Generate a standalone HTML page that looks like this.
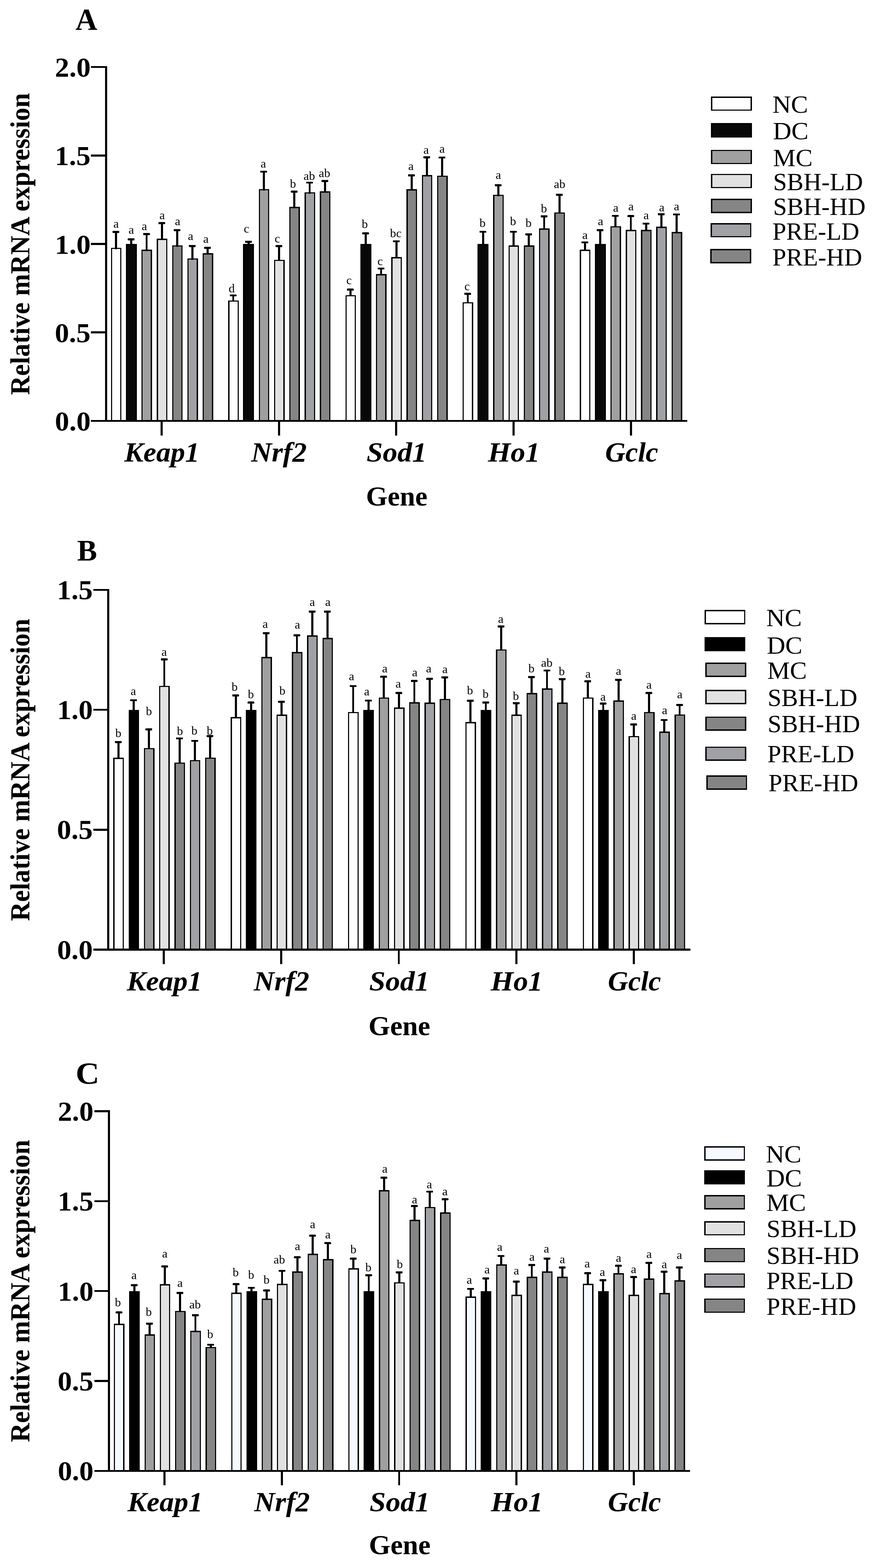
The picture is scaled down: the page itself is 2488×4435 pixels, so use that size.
<!DOCTYPE html>
<html lang="en">
<head>
<meta charset="utf-8">
<title>Relative mRNA expression of Keap1, Nrf2, Sod1, Ho1 and Gclc</title>
<style>
html,body{margin:0;padding:0;background:#fff;}
body{width:2488px;height:4435px;overflow:hidden;}
svg{display:block;}
.bars,.err,.axes,.legend rect{shape-rendering:crispEdges;}
text{font-family:"Liberation Serif",serif;fill:#000;}
.bars rect{stroke:#000;stroke-width:3.4;}
.err path{stroke:#000;stroke-width:5.8;fill:none;}
.err rect{fill:#000;}
.let text{font-size:34.4px;text-anchor:middle;}
.axes path{stroke:#000;fill:none;}
.axes .v{stroke-width:5.8;}
.bold text{font-weight:bold;}
.gene text{font-weight:bold;font-style:italic;}
.legend rect{stroke:#000;stroke-width:3.7;}
</style>
</head>
<body>
<svg width="2488" height="4435" viewBox="0 0 2488 4435" role="img" aria-label="Relative mRNA expression bar charts, panels A, B and C">
<rect x="0" y="0" width="2488" height="4435" fill="#ffffff"/>
<g id="panel-a">
<g class="bars">
<rect x="315.4" y="702.8" width="26.4" height="487.7" fill="#ffffff"/>
<rect x="357.7" y="691.4" width="27.3" height="499.1" fill="#080808"/>
<rect x="401.8" y="707.9" width="26.4" height="482.6" fill="#a0a0a0"/>
<rect x="445" y="676.9" width="26.4" height="513.6" fill="#e1e1e1"/>
<rect x="488.2" y="695.8" width="26.4" height="494.7" fill="#858585"/>
<rect x="531.4" y="732.8" width="26.4" height="457.7" fill="#a0a1a5"/>
<rect x="574.6" y="718.1" width="26.4" height="472.4" fill="#858585"/>
<rect x="646.85" y="851.7" width="26.4" height="338.8" fill="#ffffff"/>
<rect x="689.15" y="691.6" width="27.3" height="498.9" fill="#080808"/>
<rect x="733.25" y="536.8" width="26.4" height="653.7" fill="#a0a0a0"/>
<rect x="776.45" y="736.7" width="26.4" height="453.8" fill="#e1e1e1"/>
<rect x="819.65" y="587" width="26.4" height="603.5" fill="#858585"/>
<rect x="862.85" y="545.8" width="26.4" height="644.7" fill="#a0a1a5"/>
<rect x="906.05" y="542.9" width="26.4" height="647.6" fill="#858585"/>
<rect x="978.3" y="836.5" width="26.4" height="354" fill="#ffffff"/>
<rect x="1020.6" y="691.7" width="27.3" height="498.8" fill="#080808"/>
<rect x="1064.7" y="777" width="26.4" height="413.5" fill="#a0a0a0"/>
<rect x="1107.9" y="729" width="26.4" height="461.5" fill="#e1e1e1"/>
<rect x="1151.1" y="536.9" width="26.4" height="653.6" fill="#858585"/>
<rect x="1194.3" y="497" width="26.4" height="693.5" fill="#a0a1a5"/>
<rect x="1237.5" y="498.2" width="26.4" height="692.3" fill="#858585"/>
<rect x="1309.75" y="856.5" width="26.4" height="334" fill="#ffffff"/>
<rect x="1352.05" y="691.6" width="27.3" height="498.9" fill="#080808"/>
<rect x="1396.15" y="552.8" width="26.4" height="637.7" fill="#a0a0a0"/>
<rect x="1439.35" y="696" width="26.4" height="494.5" fill="#e1e1e1"/>
<rect x="1482.55" y="696" width="26.4" height="494.5" fill="#858585"/>
<rect x="1525.75" y="648" width="26.4" height="542.5" fill="#a0a1a5"/>
<rect x="1568.95" y="602.7" width="26.4" height="587.8" fill="#858585"/>
<rect x="1641.2" y="708" width="26.4" height="482.5" fill="#ffffff"/>
<rect x="1683.5" y="692.1" width="27.3" height="498.4" fill="#080808"/>
<rect x="1727.6" y="641.7" width="26.4" height="548.8" fill="#a0a0a0"/>
<rect x="1770.8" y="652.1" width="26.4" height="538.4" fill="#e1e1e1"/>
<rect x="1814" y="651.9" width="26.4" height="538.6" fill="#858585"/>
<rect x="1857.2" y="642.9" width="26.4" height="547.6" fill="#a0a1a5"/>
<rect x="1900.4" y="657.9" width="26.4" height="532.6" fill="#858585"/>
</g>
<g class="err">
<path d="M328.1 656V704.5"/><rect x="318.2" y="653.25" width="19" height="5.5" rx="1.3"/>
<path d="M371.3 677.1V693.1"/><rect x="361.4" y="674.35" width="19" height="5.5" rx="1.3"/>
<path d="M414.5 661.9V709.6"/><rect x="404.6" y="659.15" width="19" height="5.5" rx="1.3"/>
<path d="M457.7 631.1V678.6"/><rect x="447.8" y="628.35" width="19" height="5.5" rx="1.3"/>
<path d="M500.9 651V697.5"/><rect x="491" y="648.25" width="19" height="5.5" rx="1.3"/>
<path d="M544.1 695.8V734.5"/><rect x="534.2" y="693.05" width="19" height="5.5" rx="1.3"/>
<path d="M587.3 700.9V719.8"/><rect x="577.4" y="698.15" width="19" height="5.5" rx="1.3"/>
<path d="M659.55 835.7V853.4"/><rect x="649.65" y="832.95" width="19" height="5.5" rx="1.3"/>
<path d="M702.75 683.8V693.3"/><rect x="692.85" y="681.05" width="19" height="5.5" rx="1.3"/>
<path d="M745.95 485.5V538.5"/><rect x="736.05" y="482.75" width="19" height="5.5" rx="1.3"/>
<path d="M789.15 696.2V738.4"/><rect x="779.25" y="693.45" width="19" height="5.5" rx="1.3"/>
<path d="M832.35 541.9V588.7"/><rect x="822.45" y="539.15" width="19" height="5.5" rx="1.3"/>
<path d="M875.55 516.5V547.5"/><rect x="865.65" y="513.75" width="19" height="5.5" rx="1.3"/>
<path d="M918.75 511.9V544.6"/><rect x="908.85" y="509.15" width="19" height="5.5" rx="1.3"/>
<path d="M991 819.1V838.2"/><rect x="981.1" y="816.35" width="19" height="5.5" rx="1.3"/>
<path d="M1034.2 660.2V693.4"/><rect x="1024.3" y="657.45" width="19" height="5.5" rx="1.3"/>
<path d="M1077.4 759.3V778.7"/><rect x="1067.5" y="756.55" width="19" height="5.5" rx="1.3"/>
<path d="M1120.6 682.3V730.7"/><rect x="1110.7" y="679.55" width="19" height="5.5" rx="1.3"/>
<path d="M1163.8 496V538.6"/><rect x="1153.9" y="493.25" width="19" height="5.5" rx="1.3"/>
<path d="M1207 444.9V498.7"/><rect x="1197.1" y="442.15" width="19" height="5.5" rx="1.3"/>
<path d="M1250.2 445.6V499.9"/><rect x="1240.3" y="442.85" width="19" height="5.5" rx="1.3"/>
<path d="M1322.45 831.1V858.2"/><rect x="1312.55" y="828.35" width="19" height="5.5" rx="1.3"/>
<path d="M1365.65 655.7V693.3"/><rect x="1355.75" y="652.95" width="19" height="5.5" rx="1.3"/>
<path d="M1408.85 524V554.5"/><rect x="1398.95" y="521.25" width="19" height="5.5" rx="1.3"/>
<path d="M1452.05 655.3V697.7"/><rect x="1442.15" y="652.55" width="19" height="5.5" rx="1.3"/>
<path d="M1495.25 662.8V697.7"/><rect x="1485.35" y="660.05" width="19" height="5.5" rx="1.3"/>
<path d="M1538.45 611.9V649.7"/><rect x="1528.55" y="609.15" width="19" height="5.5" rx="1.3"/>
<path d="M1581.65 550.9V604.4"/><rect x="1571.75" y="548.15" width="19" height="5.5" rx="1.3"/>
<path d="M1653.9 685.3V709.7"/><rect x="1644" y="682.55" width="19" height="5.5" rx="1.3"/>
<path d="M1697.1 651.1V693.8"/><rect x="1687.2" y="648.35" width="19" height="5.5" rx="1.3"/>
<path d="M1740.3 610.7V643.4"/><rect x="1730.4" y="607.95" width="19" height="5.5" rx="1.3"/>
<path d="M1783.5 611.2V653.8"/><rect x="1773.6" y="608.45" width="19" height="5.5" rx="1.3"/>
<path d="M1826.7 632.5V653.6"/><rect x="1816.8" y="629.75" width="19" height="5.5" rx="1.3"/>
<path d="M1869.9 605.8V644.6"/><rect x="1860" y="603.05" width="19" height="5.5" rx="1.3"/>
<path d="M1913.1 606.3V659.6"/><rect x="1903.2" y="603.55" width="19" height="5.5" rx="1.3"/>
</g>
<g class="let">
<text x="328.1" y="644.2">a</text>
<text x="371.1" y="660.7">a</text>
<text x="408.2" y="651">a</text>
<text x="458.3" y="619.5">a</text>
<text x="502.2" y="637">a</text>
<text x="539" y="678.9">a</text>
<text x="582.1" y="686.9">a</text>
<text x="655.1" y="826.6">d</text>
<text x="697" y="657.5">c</text>
<text x="744.4" y="473.9">a</text>
<text x="784.2" y="686.1">c</text>
<text x="828.3" y="531.1">b</text>
<text x="874.5" y="509.3">ab</text>
<text x="917.6" y="500.8">ab</text>
<text x="986.8" y="803.9">c</text>
<text x="1031.4" y="644.8">b</text>
<text x="1075" y="749.7">c</text>
<text x="1119" y="671.4">bc</text>
<text x="1162" y="480.6">a</text>
<text x="1205" y="434.6">a</text>
<text x="1249.8" y="432.1">a</text>
<text x="1320.7" y="820.5">c</text>
<text x="1364.3" y="641.8">b</text>
<text x="1408.8" y="506.2">a</text>
<text x="1450.7" y="636.9">b</text>
<text x="1494.3" y="641.8">b</text>
<text x="1537.9" y="601.1">b</text>
<text x="1582.3" y="531.6">ab</text>
<text x="1654" y="676.1">a</text>
<text x="1697.9" y="636.9">a</text>
<text x="1741" y="598.6">a</text>
<text x="1783.9" y="594.8">a</text>
<text x="1827" y="619.5">a</text>
<text x="1870.8" y="597.7">a</text>
<text x="1913" y="594.8">a</text>
</g>
<g class="axes">
<path class="v" d="M300.1 187V1193.2"/>
<path class="h" stroke-width="5.4" d="M257.4 1190.5H1943"/>
<path class="h" stroke-width="5.4" d="M257.4 189.7H300.1"/>
<path class="h" stroke-width="5.4" d="M257.4 439.85H300.1"/>
<path class="h" stroke-width="5.4" d="M257.4 690H300.1"/>
<path class="h" stroke-width="5.4" d="M257.4 940.15H300.1"/>
<path class="v" d="M456.9 1190.5V1231.8"/>
<path class="v" d="M788.6 1190.5V1231.8"/>
<path class="v" d="M1120.3 1190.5V1231.8"/>
<path class="v" d="M1452 1190.5V1231.8"/>
<path class="v" d="M1783.7 1190.5V1231.8"/>
</g>
<g class="bold">
<text class="tl" transform="translate(155.36 217.3) scale(1.033 1)" font-size="78.2">2.0</text>
<text class="tl" transform="translate(154.95 467.45) scale(1.033 1)" font-size="78.2">1.5</text>
<text class="tl" transform="translate(155.36 717.6) scale(1.033 1)" font-size="78.2">1.0</text>
<text class="tl" transform="translate(154.95 967.75) scale(1.033 1)" font-size="78.2">0.5</text>
<text class="tl" transform="translate(155.36 1217.9) scale(1.033 1)" font-size="78.2">0.0</text>
<text class="xl" transform="translate(1034.79 1429.9) scale(0.9953 1)" font-size="78.6">Gene</text>
<text class="yl" transform="translate(82.9 1117.12) rotate(-90) scale(0.9622 1)" font-size="77.7">Relative mRNA expression</text>
<text class="pl" transform="translate(213.34 84.1) scale(0.9921 1)" font-size="86.5">A</text>
</g>
<g class="gene">
<text class="gl" transform="translate(351.21 1304.5) scale(1.0523 1)" font-size="77.5">Keap1</text>
<text class="gl" transform="translate(709.91 1304.5) scale(1.0436 1)" font-size="77.5">Nrf2</text>
<text class="gl" transform="translate(1036.25 1304.5) scale(1.0676 1)" font-size="77.5">Sod1</text>
<text class="gl" transform="translate(1379.51 1304.5) scale(1.0676 1)" font-size="77.5">Ho1</text>
<text class="gl" transform="translate(1710.92 1304.5) scale(1.0245 1)" font-size="77.5">Gclc</text>
</g>
<g class="legend">
<rect x="2012.05" y="274.75" width="111.7" height="36.9" fill="#ffffff"/>
<text class="lt" transform="translate(2184.03 318.7) scale(1.0419 1)" font-size="69.5">NC</text>
<rect x="2012.05" y="349.75" width="111.7" height="36.9" fill="#080808"/>
<text class="lt" transform="translate(2185.13 393.7) scale(1.0419 1)" font-size="69.5">DC</text>
<rect x="2012.05" y="425.65" width="111.7" height="36.9" fill="#a0a0a0"/>
<text class="lt" transform="translate(2185.54 469.6) scale(1.0356 1)" font-size="69.5">MC</text>
<rect x="2012.05" y="493.55" width="111.7" height="36.9" fill="#e1e1e1"/>
<text class="lt" transform="translate(2185.73 538) scale(1.0119 1)" font-size="69.5">SBH-LD</text>
<rect x="2012.05" y="564.05" width="111.7" height="36.9" fill="#858585"/>
<text class="lt" transform="translate(2185.73 608.1) scale(1.011 1)" font-size="69.5">SBH-HD</text>
<rect x="2010.85" y="632.65" width="111.7" height="36.9" fill="#a0a1a5"/>
<text class="lt" transform="translate(2183.69 677.5) scale(1.011 1)" font-size="69.5">PRE-LD</text>
<rect x="2010.15" y="705.85" width="111.7" height="36.9" fill="#858585"/>
<text class="lt" transform="translate(2183.69 750.5) scale(1.0121 1)" font-size="69.5">PRE-HD</text>
</g>
</g>
<g id="panel-b">
<g class="bars">
<rect x="322.1" y="2144.9" width="26.4" height="541.1" fill="#ffffff"/>
<rect x="365.33" y="2009.5" width="26.4" height="676.5" fill="#000000"/>
<rect x="408.56" y="2117.7" width="26.4" height="568.3" fill="#a0a0a0"/>
<rect x="451.79" y="1941.7" width="26.4" height="744.3" fill="#e1e1e1"/>
<rect x="495.02" y="2158.4" width="26.4" height="527.6" fill="#858585"/>
<rect x="538.25" y="2151.7" width="26.4" height="534.3" fill="#a0a1a5"/>
<rect x="581.48" y="2144.4" width="26.4" height="541.6" fill="#858585"/>
<rect x="653.95" y="2030.2" width="26.4" height="655.8" fill="#ffffff"/>
<rect x="697.18" y="2009.9" width="26.4" height="676.1" fill="#000000"/>
<rect x="740.41" y="1860.2" width="26.4" height="825.8" fill="#a0a0a0"/>
<rect x="783.64" y="2022.9" width="26.4" height="663.1" fill="#e1e1e1"/>
<rect x="826.87" y="1846.1" width="26.4" height="839.9" fill="#858585"/>
<rect x="870.1" y="1798.9" width="26.4" height="887.1" fill="#a0a1a5"/>
<rect x="913.33" y="1806.2" width="26.4" height="879.8" fill="#858585"/>
<rect x="985.8" y="2015.7" width="26.4" height="670.3" fill="#ffffff"/>
<rect x="1029.03" y="2009.6" width="26.4" height="676.4" fill="#000000"/>
<rect x="1072.26" y="1974.7" width="26.4" height="711.3" fill="#a0a0a0"/>
<rect x="1115.49" y="2002.8" width="26.4" height="683.2" fill="#e1e1e1"/>
<rect x="1158.72" y="1987.8" width="26.4" height="698.2" fill="#858585"/>
<rect x="1201.95" y="1988.8" width="26.4" height="697.2" fill="#a0a1a5"/>
<rect x="1245.18" y="1978.6" width="26.4" height="707.4" fill="#858585"/>
<rect x="1317.65" y="2044.1" width="26.4" height="641.9" fill="#ffffff"/>
<rect x="1360.88" y="2009.5" width="26.4" height="676.5" fill="#000000"/>
<rect x="1404.11" y="1838.7" width="26.4" height="847.3" fill="#a0a0a0"/>
<rect x="1447.34" y="2023.1" width="26.4" height="662.9" fill="#e1e1e1"/>
<rect x="1490.57" y="1961.8" width="26.4" height="724.2" fill="#858585"/>
<rect x="1533.8" y="1948.9" width="26.4" height="737.1" fill="#a0a1a5"/>
<rect x="1577.03" y="1988.9" width="26.4" height="697.1" fill="#858585"/>
<rect x="1649.5" y="1974.7" width="26.4" height="711.3" fill="#ffffff"/>
<rect x="1692.73" y="2009.6" width="26.4" height="676.4" fill="#000000"/>
<rect x="1735.96" y="1983" width="26.4" height="703" fill="#a0a0a0"/>
<rect x="1779.19" y="2083.7" width="26.4" height="602.3" fill="#e1e1e1"/>
<rect x="1822.42" y="2015.7" width="26.4" height="670.3" fill="#858585"/>
<rect x="1865.65" y="2070.9" width="26.4" height="615.1" fill="#a0a1a5"/>
<rect x="1908.88" y="2022.7" width="26.4" height="663.3" fill="#858585"/>
</g>
<g class="err">
<path d="M334.8 2098.9V2146.6"/><rect x="324.9" y="2096.15" width="19" height="5.5" rx="1.3"/>
<path d="M378.03 1980.7V2011.2"/><rect x="368.13" y="1977.95" width="19" height="5.5" rx="1.3"/>
<path d="M421.26 2063V2119.4"/><rect x="411.36" y="2060.25" width="19" height="5.5" rx="1.3"/>
<path d="M464.49 1865.1V1943.4"/><rect x="454.59" y="1862.35" width="19" height="5.5" rx="1.3"/>
<path d="M507.72 2088.7V2160.1"/><rect x="497.82" y="2085.95" width="19" height="5.5" rx="1.3"/>
<path d="M550.95 2095.5V2153.4"/><rect x="541.05" y="2092.75" width="19" height="5.5" rx="1.3"/>
<path d="M594.18 2081.9V2146.1"/><rect x="584.28" y="2079.15" width="19" height="5.5" rx="1.3"/>
<path d="M666.65 1967V2031.9"/><rect x="656.75" y="1964.25" width="19" height="5.5" rx="1.3"/>
<path d="M709.88 1987.1V2011.6"/><rect x="699.98" y="1984.35" width="19" height="5.5" rx="1.3"/>
<path d="M753.11 1790.9V1861.9"/><rect x="743.21" y="1788.15" width="19" height="5.5" rx="1.3"/>
<path d="M796.34 1984.9V2024.6"/><rect x="786.44" y="1982.15" width="19" height="5.5" rx="1.3"/>
<path d="M839.57 1797V1847.8"/><rect x="829.67" y="1794.25" width="19" height="5.5" rx="1.3"/>
<path d="M882.8 1729.9V1800.6"/><rect x="872.9" y="1727.15" width="19" height="5.5" rx="1.3"/>
<path d="M926.03 1729.9V1807.9"/><rect x="916.13" y="1727.15" width="19" height="5.5" rx="1.3"/>
<path d="M998.5 1940.6V2017.4"/><rect x="988.6" y="1937.85" width="19" height="5.5" rx="1.3"/>
<path d="M1041.73 1981.3V2011.3"/><rect x="1031.83" y="1978.55" width="19" height="5.5" rx="1.3"/>
<path d="M1084.96 1914.2V1976.4"/><rect x="1075.06" y="1911.45" width="19" height="5.5" rx="1.3"/>
<path d="M1128.19 1960.2V2004.5"/><rect x="1118.29" y="1957.45" width="19" height="5.5" rx="1.3"/>
<path d="M1171.42 1926V1989.5"/><rect x="1161.52" y="1923.25" width="19" height="5.5" rx="1.3"/>
<path d="M1214.65 1920.2V1990.5"/><rect x="1204.75" y="1917.45" width="19" height="5.5" rx="1.3"/>
<path d="M1257.88 1915.9V1980.3"/><rect x="1247.98" y="1913.15" width="19" height="5.5" rx="1.3"/>
<path d="M1330.35 1981.9V2045.8"/><rect x="1320.45" y="1979.15" width="19" height="5.5" rx="1.3"/>
<path d="M1373.58 1987V2011.2"/><rect x="1363.68" y="1984.25" width="19" height="5.5" rx="1.3"/>
<path d="M1416.81 1771.9V1840.4"/><rect x="1406.91" y="1769.15" width="19" height="5.5" rx="1.3"/>
<path d="M1460.04 1988.9V2024.8"/><rect x="1450.14" y="1986.15" width="19" height="5.5" rx="1.3"/>
<path d="M1503.27 1915V1963.5"/><rect x="1493.37" y="1912.25" width="19" height="5.5" rx="1.3"/>
<path d="M1546.5 1896.6V1950.6"/><rect x="1536.6" y="1893.85" width="19" height="5.5" rx="1.3"/>
<path d="M1589.73 1920.8V1990.6"/><rect x="1579.83" y="1918.05" width="19" height="5.5" rx="1.3"/>
<path d="M1662.2 1927V1976.4"/><rect x="1652.3" y="1924.25" width="19" height="5.5" rx="1.3"/>
<path d="M1705.43 1990V2011.3"/><rect x="1695.53" y="1987.25" width="19" height="5.5" rx="1.3"/>
<path d="M1748.66 1922.9V1984.7"/><rect x="1738.76" y="1920.15" width="19" height="5.5" rx="1.3"/>
<path d="M1791.89 2049.1V2085.4"/><rect x="1781.99" y="2046.35" width="19" height="5.5" rx="1.3"/>
<path d="M1835.12 1960.2V2017.4"/><rect x="1825.22" y="1957.45" width="19" height="5.5" rx="1.3"/>
<path d="M1878.35 2036.7V2072.6"/><rect x="1868.45" y="2033.95" width="19" height="5.5" rx="1.3"/>
<path d="M1921.58 1993.9V2024.4"/><rect x="1911.68" y="1991.15" width="19" height="5.5" rx="1.3"/>
</g>
<g class="let">
<text x="334.6" y="2085.4">b</text>
<text x="377" y="1965.5">a</text>
<text x="421.1" y="2023.1">b</text>
<text x="464.2" y="1854.6">a</text>
<text x="508.8" y="2078.6">b</text>
<text x="549.5" y="2077.6">b</text>
<text x="593" y="2077.6">b</text>
<text x="663.4" y="1954">b</text>
<text x="709.4" y="1974.6">b</text>
<text x="749.9" y="1775.7">a</text>
<text x="798.3" y="1965.4">b</text>
<text x="841" y="1778.2">a</text>
<text x="882.8" y="1714.2">a</text>
<text x="926.9" y="1713.7">a</text>
<text x="993.9" y="1923.5">a</text>
<text x="1037" y="1967">a</text>
<text x="1087.9" y="1901.7">a</text>
<text x="1125.9" y="1945.3">a</text>
<text x="1172.6" y="1913.3">a</text>
<text x="1212.1" y="1902.1">a</text>
<text x="1257.9" y="1903.6">a</text>
<text x="1328.8" y="1963.8">b</text>
<text x="1372.8" y="1973.7">b</text>
<text x="1415.9" y="1762.3">a</text>
<text x="1458.6" y="1979.5">b</text>
<text x="1502.6" y="1901.5">b</text>
<text x="1546" y="1885.8">ab</text>
<text x="1588.4" y="1910">b</text>
<text x="1662.4" y="1917.4">a</text>
<text x="1704.8" y="1981.6">a</text>
<text x="1748.8" y="1908.9">a</text>
<text x="1792" y="2036.1">a</text>
<text x="1834.8" y="1948.4">a</text>
<text x="1879.1" y="2019.6">a</text>
<text x="1921.8" y="1975">a</text>
</g>
<g class="axes">
<path class="v" d="M306.2 1665.7V2688.8"/>
<path class="h" stroke-width="5.6" d="M264.2 2686H1952"/>
<path class="h" stroke-width="5.6" d="M264.2 1668.5H306.2"/>
<path class="h" stroke-width="5.6" d="M264.2 2007.6H306.2"/>
<path class="h" stroke-width="5.6" d="M264.2 2346.7H306.2"/>
<path class="v" d="M463.1 2686V2726.6"/>
<path class="v" d="M795.3 2686V2726.6"/>
<path class="v" d="M1127.5 2686V2726.6"/>
<path class="v" d="M1459.7 2686V2726.6"/>
<path class="v" d="M1791.9 2686V2726.6"/>
</g>
<g class="bold">
<text class="tl" transform="translate(161.05 1695.2) scale(1.033 1)" font-size="78.2">1.5</text>
<text class="tl" transform="translate(161.46 2034.3) scale(1.033 1)" font-size="78.2">1.0</text>
<text class="tl" transform="translate(161.05 2373.4) scale(1.033 1)" font-size="78.2">0.5</text>
<text class="tl" transform="translate(161.46 2712.7) scale(1.033 1)" font-size="78.2">0.0</text>
<text class="xl" transform="translate(1041.77 2927.8) scale(1 1)" font-size="78.6">Gene</text>
<text class="yl" transform="translate(82.9 2605.12) rotate(-90) scale(0.9635 1)" font-size="77.7">Relative mRNA expression</text>
<text class="pl" transform="translate(217.93 1585.5) scale(1.0064 1)" font-size="84.1">B</text>
</g>
<g class="gene">
<text class="gl" transform="translate(358.41 2800.6) scale(1.0523 1)" font-size="77.5">Keap1</text>
<text class="gl" transform="translate(717.31 2800.6) scale(1.0436 1)" font-size="77.5">Nrf2</text>
<text class="gl" transform="translate(1043.85 2800.6) scale(1.0676 1)" font-size="77.5">Sod1</text>
<text class="gl" transform="translate(1387.31 2800.6) scale(1.0676 1)" font-size="77.5">Ho1</text>
<text class="gl" transform="translate(1718.82 2800.6) scale(1.0252 1)" font-size="77.5">Gclc</text>
</g>
<g class="legend">
<rect x="1993.85" y="1726.95" width="111.7" height="36.9" fill="#ffffff"/>
<text class="lt" transform="translate(2166.43 1770.9) scale(1.0419 1)" font-size="69.5">NC</text>
<rect x="1993.85" y="1803.55" width="111.7" height="36.9" fill="#000000"/>
<text class="lt" transform="translate(2167.93 1848.5) scale(1.0419 1)" font-size="69.5">DC</text>
<rect x="1996.05" y="1876.05" width="111.7" height="36.9" fill="#a0a0a0"/>
<text class="lt" transform="translate(2169.34 1919.6) scale(1.0356 1)" font-size="69.5">MC</text>
<rect x="1996.05" y="1953.35" width="111.7" height="36.9" fill="#e1e1e1"/>
<text class="lt" transform="translate(2170.13 1997.4) scale(1.0119 1)" font-size="69.5">SBH-LD</text>
<rect x="1996.05" y="2028.45" width="111.7" height="36.9" fill="#858585"/>
<text class="lt" transform="translate(2170.13 2071.4) scale(1.011 1)" font-size="69.5">SBH-HD</text>
<rect x="1996.05" y="2113.35" width="111.7" height="36.9" fill="#a0a1a5"/>
<text class="lt" transform="translate(2169.39 2156.4) scale(1.011 1)" font-size="69.5">PRE-LD</text>
<rect x="1998.75" y="2194.95" width="111.7" height="36.9" fill="#858585"/>
<text class="lt" transform="translate(2172.59 2237.6) scale(1.0121 1)" font-size="69.5">PRE-HD</text>
</g>
</g>
<g id="panel-c">
<g class="bars">
<rect x="323.8" y="3746.1" width="26.4" height="414.4" fill="#f6f9ff"/>
<rect x="367" y="3653.8" width="26.4" height="506.7" fill="#000000"/>
<rect x="410.2" y="3776.1" width="26.4" height="384.4" fill="#a0a0a0"/>
<rect x="453.4" y="3634.2" width="26.4" height="526.3" fill="#e1e1e1"/>
<rect x="496.6" y="3709.7" width="26.4" height="450.8" fill="#858585"/>
<rect x="539.8" y="3765.9" width="26.4" height="394.6" fill="#a0a1a5"/>
<rect x="583" y="3811.7" width="26.4" height="348.8" fill="#858585"/>
<rect x="655.2" y="3658" width="26.4" height="502.5" fill="#f6f9ff"/>
<rect x="698.4" y="3653.9" width="26.4" height="506.6" fill="#000000"/>
<rect x="741.6" y="3675" width="26.4" height="485.5" fill="#a0a0a0"/>
<rect x="784.8" y="3632.9" width="26.4" height="527.6" fill="#e1e1e1"/>
<rect x="828" y="3598" width="26.4" height="562.5" fill="#858585"/>
<rect x="871.2" y="3547.8" width="26.4" height="612.7" fill="#a0a1a5"/>
<rect x="914.4" y="3562.9" width="26.4" height="597.6" fill="#858585"/>
<rect x="986.6" y="3588.9" width="26.4" height="571.6" fill="#f6f9ff"/>
<rect x="1029.8" y="3653.6" width="26.4" height="506.9" fill="#000000"/>
<rect x="1073" y="3367.8" width="26.4" height="792.7" fill="#a0a0a0"/>
<rect x="1116.2" y="3628.7" width="26.4" height="531.8" fill="#e1e1e1"/>
<rect x="1159.4" y="3451.9" width="26.4" height="708.6" fill="#858585"/>
<rect x="1202.6" y="3415.5" width="26.4" height="745" fill="#a0a1a5"/>
<rect x="1245.8" y="3430.8" width="26.4" height="729.7" fill="#858585"/>
<rect x="1318" y="3668.8" width="26.4" height="491.7" fill="#f6f9ff"/>
<rect x="1361.2" y="3653.8" width="26.4" height="506.7" fill="#000000"/>
<rect x="1404.4" y="3578.2" width="26.4" height="582.3" fill="#a0a0a0"/>
<rect x="1447.6" y="3664.2" width="26.4" height="496.3" fill="#e1e1e1"/>
<rect x="1490.8" y="3612.9" width="26.4" height="547.6" fill="#858585"/>
<rect x="1534" y="3598.1" width="26.4" height="562.4" fill="#a0a1a5"/>
<rect x="1577.2" y="3612.9" width="26.4" height="547.6" fill="#858585"/>
<rect x="1649.4" y="3633" width="26.4" height="527.5" fill="#f6f9ff"/>
<rect x="1692.6" y="3653.8" width="26.4" height="506.7" fill="#000000"/>
<rect x="1735.8" y="3602.9" width="26.4" height="557.6" fill="#a0a0a0"/>
<rect x="1779" y="3664" width="26.4" height="496.5" fill="#e1e1e1"/>
<rect x="1822.2" y="3618" width="26.4" height="542.5" fill="#858585"/>
<rect x="1865.4" y="3658.9" width="26.4" height="501.6" fill="#a0a1a5"/>
<rect x="1908.6" y="3622.8" width="26.4" height="537.7" fill="#858585"/>
</g>
<g class="err">
<path d="M336.5 3712.2V3747.8"/><rect x="326.6" y="3709.45" width="19" height="5.5" rx="1.3"/>
<path d="M379.7 3635.1V3655.5"/><rect x="369.8" y="3632.35" width="19" height="5.5" rx="1.3"/>
<path d="M422.9 3743.9V3777.8"/><rect x="413" y="3741.15" width="19" height="5.5" rx="1.3"/>
<path d="M466.1 3582.1V3635.9"/><rect x="456.2" y="3579.35" width="19" height="5.5" rx="1.3"/>
<path d="M509.3 3656.9V3711.4"/><rect x="499.4" y="3654.15" width="19" height="5.5" rx="1.3"/>
<path d="M552.5 3719.9V3767.6"/><rect x="542.6" y="3717.15" width="19" height="5.5" rx="1.3"/>
<path d="M595.7 3803.7V3813.4"/><rect x="585.8" y="3800.95" width="19" height="5.5" rx="1.3"/>
<path d="M667.9 3632.1V3659.7"/><rect x="658" y="3629.35" width="19" height="5.5" rx="1.3"/>
<path d="M711.1 3642.3V3655.6"/><rect x="701.2" y="3639.55" width="19" height="5.5" rx="1.3"/>
<path d="M754.3 3650V3676.7"/><rect x="744.4" y="3647.25" width="19" height="5.5" rx="1.3"/>
<path d="M797.5 3594.3V3634.6"/><rect x="787.6" y="3591.55" width="19" height="5.5" rx="1.3"/>
<path d="M840.7 3556.1V3599.7"/><rect x="830.8" y="3553.35" width="19" height="5.5" rx="1.3"/>
<path d="M883.9 3495V3549.5"/><rect x="874" y="3492.25" width="19" height="5.5" rx="1.3"/>
<path d="M927.1 3516.1V3564.6"/><rect x="917.2" y="3513.35" width="19" height="5.5" rx="1.3"/>
<path d="M999.3 3560.1V3590.6"/><rect x="989.4" y="3557.35" width="19" height="5.5" rx="1.3"/>
<path d="M1042.5 3607.1V3655.3"/><rect x="1032.6" y="3604.35" width="19" height="5.5" rx="1.3"/>
<path d="M1085.7 3331V3369.5"/><rect x="1075.8" y="3328.25" width="19" height="5.5" rx="1.3"/>
<path d="M1128.9 3598.9V3630.4"/><rect x="1119" y="3596.15" width="19" height="5.5" rx="1.3"/>
<path d="M1172.1 3411.2V3453.6"/><rect x="1162.2" y="3408.45" width="19" height="5.5" rx="1.3"/>
<path d="M1215.3 3370.7V3417.2"/><rect x="1205.4" y="3367.95" width="19" height="5.5" rx="1.3"/>
<path d="M1258.5 3392V3432.5"/><rect x="1248.6" y="3389.25" width="19" height="5.5" rx="1.3"/>
<path d="M1330.7 3645.3V3670.5"/><rect x="1320.8" y="3642.55" width="19" height="5.5" rx="1.3"/>
<path d="M1373.9 3616V3655.5"/><rect x="1364" y="3613.25" width="19" height="5.5" rx="1.3"/>
<path d="M1417.1 3552.3V3579.9"/><rect x="1407.2" y="3549.55" width="19" height="5.5" rx="1.3"/>
<path d="M1460.3 3625V3665.9"/><rect x="1450.4" y="3622.25" width="19" height="5.5" rx="1.3"/>
<path d="M1503.5 3578V3614.6"/><rect x="1493.6" y="3575.25" width="19" height="5.5" rx="1.3"/>
<path d="M1546.7 3559.8V3599.8"/><rect x="1536.8" y="3557.05" width="19" height="5.5" rx="1.3"/>
<path d="M1589.9 3585V3614.6"/><rect x="1580" y="3582.25" width="19" height="5.5" rx="1.3"/>
<path d="M1662.1 3601.2V3634.7"/><rect x="1652.2" y="3598.45" width="19" height="5.5" rx="1.3"/>
<path d="M1705.3 3621.1V3655.5"/><rect x="1695.4" y="3618.35" width="19" height="5.5" rx="1.3"/>
<path d="M1748.5 3580.2V3604.6"/><rect x="1738.6" y="3577.45" width="19" height="5.5" rx="1.3"/>
<path d="M1791.7 3611.9V3665.7"/><rect x="1781.8" y="3609.15" width="19" height="5.5" rx="1.3"/>
<path d="M1834.9 3571.9V3619.7"/><rect x="1825" y="3569.15" width="19" height="5.5" rx="1.3"/>
<path d="M1878.1 3596.9V3660.6"/><rect x="1868.2" y="3594.15" width="19" height="5.5" rx="1.3"/>
<path d="M1921.3 3585V3624.5"/><rect x="1911.4" y="3582.25" width="19" height="5.5" rx="1.3"/>
</g>
<g class="let">
<text x="333.4" y="3694.6">b</text>
<text x="379" y="3618">a</text>
<text x="420.6" y="3721.7">b</text>
<text x="465.9" y="3557.2">a</text>
<text x="509" y="3639.8">a</text>
<text x="551.4" y="3700.8">ab</text>
<text x="594.3" y="3785.4">b</text>
<text x="666.3" y="3609.9">b</text>
<text x="710.2" y="3616.9">b</text>
<text x="753.5" y="3631">b</text>
<text x="789.8" y="3573.8">ab</text>
<text x="841.2" y="3535.6">a</text>
<text x="883.8" y="3473.8">a</text>
<text x="926.9" y="3502.6">a</text>
<text x="999.2" y="3545.4">b</text>
<text x="1041.6" y="3595.5">b</text>
<text x="1087.9" y="3316.8">a</text>
<text x="1130.3" y="3587.3">b</text>
<text x="1172.2" y="3403.7">a</text>
<text x="1213.8" y="3360.6">a</text>
<text x="1257.9" y="3381.4">a</text>
<text x="1326.8" y="3631.1">a</text>
<text x="1377.2" y="3601.8">a</text>
<text x="1413" y="3537.9">a</text>
<text x="1460" y="3604.9">a</text>
<text x="1503.8" y="3565.7">a</text>
<text x="1544.8" y="3543.2">a</text>
<text x="1589.8" y="3572.7">a</text>
<text x="1660.2" y="3584.8">a</text>
<text x="1703.1" y="3608.6">a</text>
<text x="1748.8" y="3568.6">a</text>
<text x="1791.5" y="3600.8">a</text>
<text x="1835.1" y="3558.4">a</text>
<text x="1878.2" y="3587.3">a</text>
<text x="1921" y="3561.3">a</text>
</g>
<g class="axes">
<path class="v" d="M308.2 3140.4V4163.1"/>
<path class="h" stroke-width="5.2" d="M266.5 4160.5H1951"/>
<path class="h" stroke-width="5.2" d="M266.5 3143H308.2"/>
<path class="h" stroke-width="5.2" d="M266.5 3397.3H308.2"/>
<path class="h" stroke-width="5.2" d="M266.5 3651.7H308.2"/>
<path class="h" stroke-width="5.2" d="M266.5 3906H308.2"/>
<path class="v" d="M464.9 4160.5V4200.8"/>
<path class="v" d="M796.7 4160.5V4200.8"/>
<path class="v" d="M1128.5 4160.5V4200.8"/>
<path class="v" d="M1460.3 4160.5V4200.8"/>
<path class="v" d="M1792.1 4160.5V4200.8"/>
</g>
<g class="bold">
<text class="tl" transform="translate(163.46 3169.8) scale(1.033 1)" font-size="78.2">2.0</text>
<text class="tl" transform="translate(163.05 3424.1) scale(1.033 1)" font-size="78.2">1.5</text>
<text class="tl" transform="translate(163.46 3678.5) scale(1.033 1)" font-size="78.2">1.0</text>
<text class="tl" transform="translate(163.05 3932.8) scale(1.033 1)" font-size="78.2">0.5</text>
<text class="tl" transform="translate(163.46 4187.3) scale(1.033 1)" font-size="78.2">0.0</text>
<text class="xl" transform="translate(1042.97 4395.9) scale(0.9988 1)" font-size="78.6">Gene</text>
<text class="yl" transform="translate(82.9 4079.02) rotate(-90) scale(0.9634 1)" font-size="77.7">Relative mRNA expression</text>
<text class="pl" transform="translate(213.84 3064.9) scale(1.0739 1)" font-size="86.7">C</text>
</g>
<g class="gene">
<text class="gl" transform="translate(360.41 4274.4) scale(1.0523 1)" font-size="77.5">Keap1</text>
<text class="gl" transform="translate(718.81 4274.4) scale(1.0436 1)" font-size="77.5">Nrf2</text>
<text class="gl" transform="translate(1044.85 4274.4) scale(1.0676 1)" font-size="77.5">Sod1</text>
<text class="gl" transform="translate(1387.81 4274.4) scale(1.0676 1)" font-size="77.5">Ho1</text>
<text class="gl" transform="translate(1718.82 4274.4) scale(1.0252 1)" font-size="77.5">Gclc</text>
</g>
<g class="legend">
<rect x="1992.65" y="3243.85" width="111.7" height="36.9" fill="#f6f9ff"/>
<text class="lt" transform="translate(2165.33 3287.7) scale(1.0419 1)" font-size="69.5">NC</text>
<rect x="1992.65" y="3311.65" width="111.7" height="36.9" fill="#000000"/>
<text class="lt" transform="translate(2166.73 3355.8) scale(1.0419 1)" font-size="69.5">DC</text>
<rect x="1992.65" y="3381.85" width="111.7" height="36.9" fill="#a0a0a0"/>
<text class="lt" transform="translate(2166.74 3424.7) scale(1.0356 1)" font-size="69.5">MC</text>
<rect x="1992.65" y="3455.75" width="111.7" height="36.9" fill="#e1e1e1"/>
<text class="lt" transform="translate(2167.33 3499.4) scale(1.0119 1)" font-size="69.5">SBH-LD</text>
<rect x="1992.65" y="3531.65" width="111.7" height="36.9" fill="#858585"/>
<text class="lt" transform="translate(2167.33 3574.9) scale(1.011 1)" font-size="69.5">SBH-HD</text>
<rect x="1992.65" y="3603.35" width="111.7" height="36.9" fill="#a0a1a5"/>
<text class="lt" transform="translate(2166.79 3646.3) scale(1.011 1)" font-size="69.5">PRE-LD</text>
<rect x="1992.65" y="3674.55" width="111.7" height="36.9" fill="#858585"/>
<text class="lt" transform="translate(2166.79 3718.5) scale(1.0121 1)" font-size="69.5">PRE-HD</text>
</g>
</g>
</svg>
</body>
</html>
